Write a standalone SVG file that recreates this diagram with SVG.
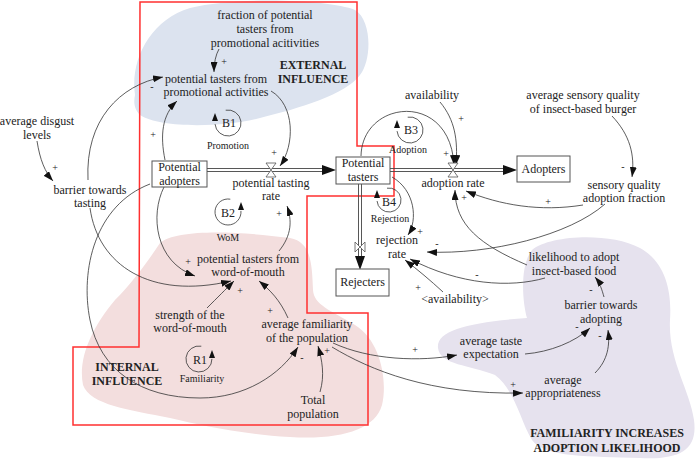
<svg xmlns="http://www.w3.org/2000/svg" width="696" height="463" viewBox="0 0 696 463">
<style>
text{font-family:"Liberation Serif","Times New Roman",serif;font-size:12px;fill:#222;text-anchor:middle}
.b{font-weight:bold}
.s{font-size:10px}
.p{font-size:10px;fill:#222}
.c{fill:none;stroke:#333;stroke-width:0.8}
.box{fill:#fff;stroke:#555;stroke-width:1}
.pipe{fill:none;stroke:#444;stroke-width:0.9}
.valve{fill:#fff;stroke:#555;stroke-width:0.8}
.loop{fill:none;stroke:#333;stroke-width:0.8}
.ah{fill:#111}
</style>
<defs>
<marker id="a" markerWidth="10" markerHeight="7" refX="10" refY="3.5" orient="auto" markerUnits="userSpaceOnUse"><path d="M0,0 L10,3.5 L0,7 z" fill="#111"/></marker>
</defs>
<g id="regions">
<path d="M135,95 C130,60 150,20 190,8 C240,-4 330,0 355,10 C372,20 372,60 360,75 C345,95 300,108 260,118 C220,128 160,128 140,115 C133,108 134,100 135,95 Z" fill="#dce3ef"/>
<path d="M160,243 C175,230 230,230 290,238 C310,242 312,260 313,290 C314,305 330,310 355,325 C380,340 388,380 382,405 C375,430 340,440 290,437 C240,434 200,425 170,418 C130,410 90,405 83,385 C78,360 90,330 115,300 C135,280 150,258 160,243 Z" fill="#f3dede"/>
<path d="M527,318 C522,300 520,265 532,250 C550,235 610,232 640,248 C665,262 672,290 670,320 C668,360 690,390 694,420 C698,450 680,460 640,458 C590,456 545,458 532,440 C520,420 515,390 495,375 C470,365 440,365 438,348 C436,330 470,322 527,318 Z" fill="#e6e2ee"/>
<polygon points="140,2 357,2 357,146 394,146 394,196 307,196 307,313 368,313 368,425 73,425 73,347 139,347" fill="none" stroke="#ff3030" stroke-width="1.5"/>
<text class="b" x="313" y="69">EXTERNAL</text><text class="b" x="313" y="83">INFLUENCE</text>
<text class="b" x="127" y="371">INTERNAL</text><text class="b" x="127" y="385">INFLUENCE</text>
<text class="b" x="607" y="437">FAMILIARITY INCREASES</text><text class="b" x="607" y="452">ADOPTION LIKELIHOOD</text>
</g>
<g id="connectors">
<path class="c" marker-end="url(#a)" d="M219,49 Q214,58 214,72"/>
<path class="c" marker-end="url(#a)" d="M88,180 C85,120 120,85 163,77"/>
<path class="c" marker-end="url(#a)" d="M165,160 C160,135 162,115 177,101"/>
<path class="c" marker-end="url(#a)" d="M271,91 C295,105 295,145 280,166"/>
<path class="c" marker-end="url(#a)" d="M164,187 C150,215 155,262 195,276"/>
<path class="c" marker-end="url(#a)" d="M279,251 C292,235 292,220 287,206"/>
<path class="c" marker-end="url(#a)" d="M207,308 C218,297 225,290 234,281"/>
<path class="c" marker-end="url(#a)" d="M288,318 C280,300 270,290 259,281"/>
<path class="c" marker-end="url(#a)" d="M90,208 C98,265 150,300 231,281"/>
<path class="c" marker-end="url(#a)" d="M150,184 C95,205 80,270 90,320 C100,370 140,398 200,398 C245,398 280,375 298,347"/>
<path class="c" marker-end="url(#a)" d="M320,392 C325,375 322,360 318,346"/>
<path class="c" marker-end="url(#a)" d="M333,343 C370,360 420,362 457,355"/>
<path class="c" marker-end="url(#a)" d="M332,347 C370,370 430,395 523,393"/>
<path class="c" marker-end="url(#a)" d="M525,354 C550,352 575,342 590,328"/>
<path class="c" marker-end="url(#a)" d="M595,373 C608,360 610,345 608,330"/>
<path class="c" marker-end="url(#a)" d="M604,297 C602,290 600,283 595,277"/>
<path class="c" marker-end="url(#a)" d="M545,278 C510,288 460,285 410,259"/>
<path class="c" marker-end="url(#a)" d="M527,265 C480,245 455,225 455,190"/>
<path class="c" marker-end="url(#a)" d="M583,205 C540,212 500,205 466,191"/>
<path class="c" marker-end="url(#a)" d="M605,204 C570,235 490,255 427,252"/>
<path class="c" marker-end="url(#a)" d="M612,116 C630,135 635,155 632,177"/>
<path class="c" marker-end="url(#a)" d="M440,102 C455,120 458,140 456,165"/>
<path class="c" marker-end="url(#a)" d="M361,156 C362,100 450,90 454,165"/>
<path class="c" marker-end="url(#a)" d="M392,177 C415,190 418,220 408,235"/>
<path class="c" marker-end="url(#a)" d="M443,292 C430,280 418,270 405,260"/>
<path class="c" marker-end="url(#a)" d="M37,141 C40,160 45,172 53,181"/>
<!-- pipes -->
<path class="pipe" d="M207,168.5 H323 M207,171.5 H323"/>
<polygon class="ah" points="322,165 336,170 322,175"/>
<path class="pipe" d="M390,168.5 H504 M390,171.5 H504"/>
<polygon class="ah" points="503,165 517,170 503,175"/>
<path class="pipe" d="M358.5,184 V257 M361.5,184 V257"/>
<polygon class="ah" points="355,256 360,270 365,256"/>
<polygon class="valve" points="266,163 276,163 271,170 266,177 276,177 271,170"/>
<polygon class="valve" points="448,163 458,163 453,170 448,177 458,177 453,170"/>
<polygon class="valve" points="355,242 355,252 360,247 365,242 365,252 360,247"/>
<!-- loops -->
<path class="loop" d="M225.7,110.2 A13,13 0 1 1 215.05,124.1"/>
<polygon class="ah" points="215,113 212,121 218,121"/>
<path class="loop" d="M230.3,199.2 A13,13 0 1 0 240.95,210.9"/>
<polygon class="ah" points="241,202 238,210 244,210"/>
<path class="loop" d="M407.7,117.2 A13,13 0 1 1 397.05,131.1"/>
<polygon class="ah" points="397,120 394,128 400,128"/>
<path class="loop" d="M387,188.2 A12,12 0 1 1 377.05,201"/>
<polygon class="ah" points="377,190 374,198 380,198"/>
<path class="loop" d="M201.3,346.2 A13,13 0 1 0 211.95,358.9"/>
<polygon class="ah" points="212,350 209,358 215,358"/>
<!-- polarities -->
<text class="p" x="224" y="65">+</text>
<text class="p" x="152" y="90">-</text>
<text class="p" x="153" y="138">+</text>
<text class="p" x="274" y="156">+</text>
<text class="p" x="188" y="265">+</text>
<text class="p" x="279" y="217">+</text>
<text class="p" x="240" y="294">+</text>
<text class="p" x="270" y="314">+</text>
<text class="p" x="302" y="361">-</text>
<text class="p" x="327" y="354">+</text>
<text class="p" x="415" y="353">+</text>
<text class="p" x="513" y="388">+</text>
<text class="p" x="577" y="330">-</text>
<text class="p" x="600" y="339">-</text>
<text class="p" x="591" y="293">-</text>
<text class="p" x="477" y="278">-</text>
<text class="p" x="464" y="201">+</text>
<text class="p" x="548" y="205">+</text>
<text class="p" x="437" y="247">-</text>
<text class="p" x="623" y="170">-</text>
<text class="p" x="461" y="122">+</text>
<text class="p" x="446" y="157">+</text>
<text class="p" x="420" y="235">+</text>
<text class="p" x="418" y="291">+</text>
<text class="p" x="55" y="171">+</text>
</g>
<g id="loop-labels">
<text x="229" y="127">B1</text><text class="s" x="228" y="149">Promotion</text>
<text x="228" y="217">B2</text><text class="s" x="228" y="241">WoM</text>
<text x="411" y="134">B3</text><text class="s" x="408" y="153">Adoption</text>
<text x="389" y="206">B4</text><text class="s" x="390" y="222">Rejection</text>
<text x="200" y="364">R1</text><text class="s" x="202" y="382">Familiarity</text>
</g>
<g id="fraction-promo"><text x="265" y="19">fraction of potential</text><text x="265" y="33">tasters from</text><text x="265" y="47">promotional acitivities</text></g>
<g id="promo-tasters"><text x="216" y="83">potential tasters from</text><text x="216" y="96">promotional activities</text></g>
<g id="disgust"><text x="37" y="125">average disgust</text><text x="37" y="139">levels</text></g>
<g id="barrier-tasting"><text x="90" y="194">barrier towards</text><text x="90" y="207">tasting</text></g>
<g id="potential-adopters"><rect class="box" x="152" y="161" width="55" height="26"/><text x="179.5" y="171">Potential</text><text x="179.5" y="185">adopters</text></g>
<g id="tasting-rate"><text x="271" y="187">potential tasting</text><text x="271" y="200">rate</text></g>
<g id="potential-tasters"><rect class="box" x="336" y="157" width="54" height="27"/><text x="363" y="167">Potential</text><text x="363" y="181">tasters</text></g>
<g id="adopters"><rect class="box" x="517" y="156" width="53" height="26"/><text x="543.5" y="173">Adopters</text></g>
<g id="adoption-rate"><text x="453" y="187">adoption rate</text></g>
<g id="availability"><text x="432" y="99">availability</text></g>
<g id="avg-sensory"><text x="583" y="99">average sensory quality</text><text x="583" y="113">of insect-based burger</text></g>
<g id="sensory-fraction"><text x="624" y="189">sensory quality</text><text x="624" y="202">adoption fraction</text></g>
<g id="rejection-rate"><text x="397" y="244">rejection</text><text x="397" y="258">rate</text></g>
<g id="rejecters"><rect class="box" x="336" y="269" width="53" height="27"/><text x="362.5" y="286">Rejecters</text></g>
<g id="availability-shadow"><text x="455" y="303">&lt;availability&gt;</text></g>
<g id="likelihood"><text x="574" y="261">likelihood to adopt</text><text x="574" y="275">insect-based food</text></g>
<g id="barrier-adopting"><text x="601" y="309">barrier towards</text><text x="601" y="323">adopting</text></g>
<g id="taste-expectation"><text x="491" y="345">average taste</text><text x="491" y="358">expectation</text></g>
<g id="appropriateness"><text x="563" y="384">average</text><text x="563" y="397">appropriateness</text></g>
<g id="wom-tasters"><text x="248" y="263">potential tasters from</text><text x="248" y="276">word-of-mouth</text></g>
<g id="strength"><text x="190" y="319">strength of the</text><text x="190" y="332">word-of-mouth</text></g>
<g id="familiarity"><text x="307" y="328">average familiarity</text><text x="307" y="342">of the population</text></g>
<g id="total-population"><text x="313" y="404">Total</text><text x="313" y="418">population</text></g>
</svg>
